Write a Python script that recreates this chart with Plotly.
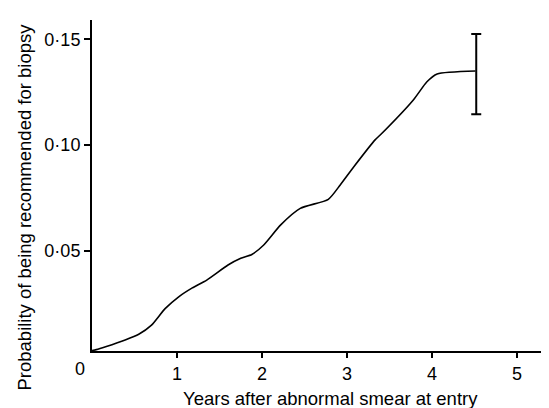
import plotly.graph_objects as go

# Curve: years after abnormal smear vs probability of being recommended for biopsy
years = [0.0, 0.05, 0.16, 0.39, 0.55, 0.70, 0.86, 1.02, 1.18, 1.35, 1.60, 1.75, 1.88,
         2.02, 2.22, 2.45, 2.78, 2.92, 3.08, 3.33, 3.39, 3.78, 3.94, 4.06, 4.51]
prob = [0.0027, 0.0032, 0.0046, 0.0078, 0.0105, 0.0148, 0.0226, 0.0282, 0.0324, 0.0361,
        0.0432, 0.0464, 0.0482, 0.0527, 0.0622, 0.0700, 0.0743, 0.0811, 0.0897, 0.1024,
        0.1047, 0.1213, 0.1299, 0.1336, 0.1350]

# Error bar at end of follow-up
err_x = [4.52]
err_y = [0.1350]
err_upper = [0.1525]
err_lower = [0.1145]

x_ticks = [1, 2, 3, 4, 5]
x_ticktext = ["1", "2", "3", "4", "5"]
y_ticks = [0.05, 0.10, 0.15]
y_ticktext = ["0·05", "0·10", "0·15"]

x_title = "Years after abnormal smear at entry"
y_title = "Probability of being recommended for biopsy"

FONT = "Liberation Sans, Arial, Helvetica, sans-serif"
INK = "#000000"

fig = go.Figure()
fig.add_trace(go.Scatter(
    x=years, y=prob, mode="lines",
    line=dict(color=INK, width=1.6, shape="spline", smoothing=0.6),
    showlegend=False, hoverinfo="skip"))
fig.add_trace(go.Scatter(
    x=err_x, y=err_y, mode="markers",
    marker=dict(size=1, color=INK),
    error_y=dict(type="data", symmetric=False,
                 array=[u - c for u, c in zip(err_upper, err_y)],
                 arrayminus=[c - l for l, c in zip(err_lower, err_y)],
                 color=INK, thickness=2, width=5),
    showlegend=False, hoverinfo="skip"))

fig.update_layout(
    width=549, height=408,
    margin=dict(l=84, r=0, t=12, b=65),
    paper_bgcolor="white", plot_bgcolor="white",
    font=dict(family=FONT, size=18, color=INK),
    xaxis=dict(range=[0, 5.47], tickvals=x_ticks, ticktext=x_ticktext,
               showgrid=False, zeroline=False, showline=True, linecolor=INK,
               linewidth=2, ticks="outside", ticklen=5, tickwidth=1.5, tickcolor=INK,
               tickfont=dict(family=FONT, size=18, color=INK), automargin=False),
    yaxis=dict(range=[0.00255, 0.1591], tickvals=y_ticks, ticktext=y_ticktext,
               showgrid=False, zeroline=False, showline=True, linecolor=INK,
               linewidth=2, ticks="outside", ticklen=6, tickwidth=1.5, tickcolor=INK,
               tickfont=dict(family=FONT, size=18, color=INK), automargin=False),
    annotations=[
        dict(text="0", xref="paper", yref="paper", x=0, y=0, xanchor="center",
             yanchor="top", xshift=-12, yshift=-6, showarrow=False,
             font=dict(family=FONT, size=18, color=INK)),
        dict(text=x_title, xref="x", yref="paper", x=2.81, y=-0.142,
             xanchor="center", yanchor="middle", showarrow=False,
             font=dict(family=FONT, size=18.5, color=INK)),
        dict(text=y_title, xref="paper", yref="paper", x=-0.1462, y=0.4335,
             xanchor="center", yanchor="middle", textangle=-90, showarrow=False,
             font=dict(family=FONT, size=18.5, color=INK)),
    ],
)

fig.write_html("out.html")
